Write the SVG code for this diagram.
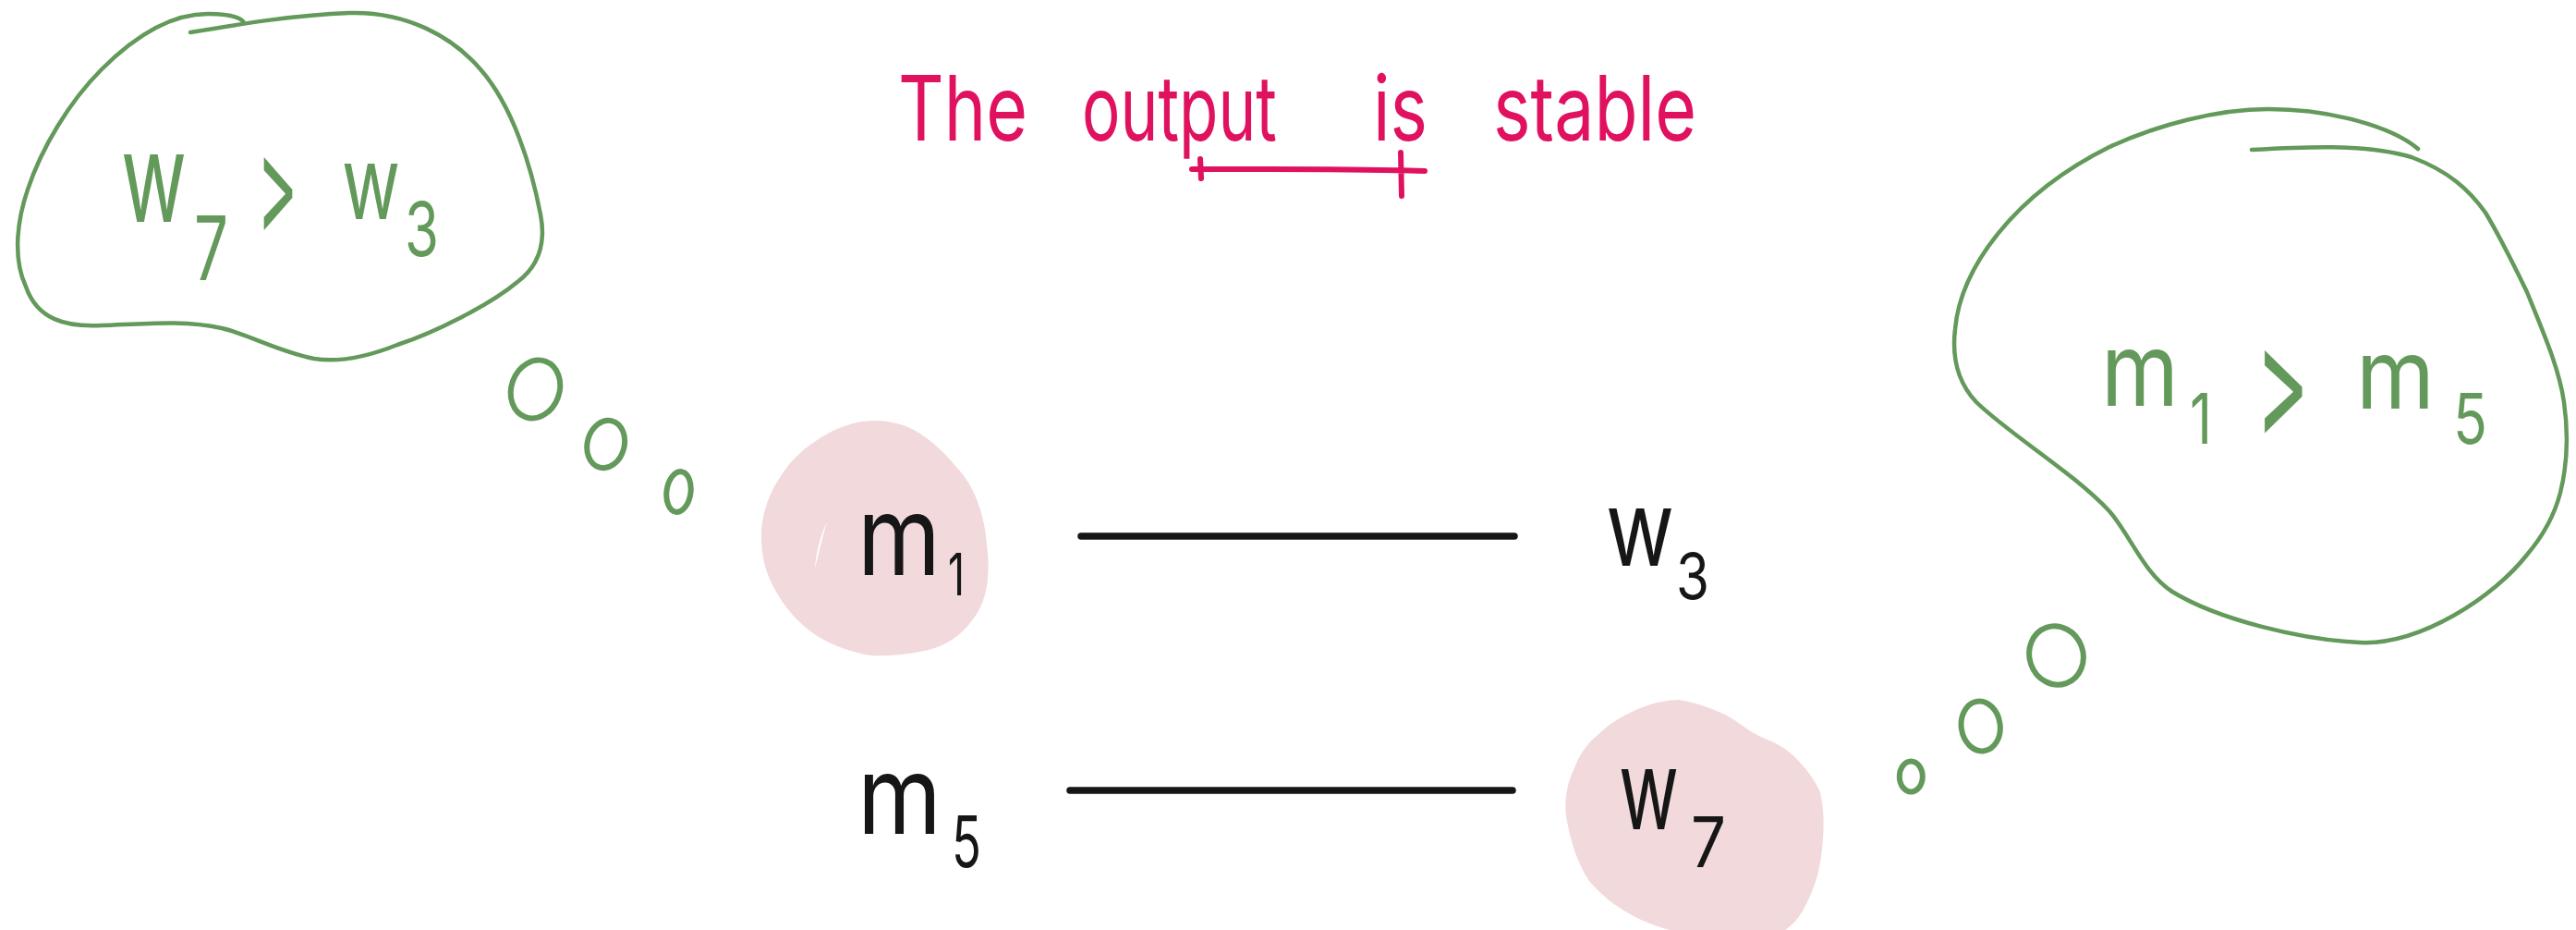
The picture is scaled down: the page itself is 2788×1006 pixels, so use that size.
<svg xmlns="http://www.w3.org/2000/svg" width="2788" height="1006" viewBox="0 0 2788 1006">
<style>
.bg{fill:#ffffff}
.bubble{fill:none;stroke:#63995a;stroke-width:4.5;stroke-linecap:round;stroke-linejoin:round}
.dot{fill:none;stroke:#63995a;stroke-width:6}
.blob{fill:#f1d9dc}
.edge{stroke:#161616;stroke-width:7.5;stroke-linecap:round}
.uline{fill:none;stroke:#e0115f;stroke-width:6;stroke-linecap:round}
text{font-family:Inter,"Liberation Sans","DejaVu Sans",sans-serif;font-weight:400}
.g{fill:#63995a}
.k{fill:#161616}
.r{fill:#e0115f}
</style>
<rect class="bg" x="0" y="0" width="2788" height="1006"/>

<g id="title">
<text class="r" font-size="98"><tspan x="972" y="152" textLength="140" lengthAdjust="spacingAndGlyphs">The</tspan><tspan x="1171" y="152" textLength="211" lengthAdjust="spacingAndGlyphs">output</tspan><tspan x="1486" y="152" textLength="59" lengthAdjust="spacingAndGlyphs">is</tspan><tspan x="1616" y="152" textLength="220" lengthAdjust="spacingAndGlyphs">stable</tspan></text>
<path class="uline" d="M1290,183 C1370,183 1460,182 1542,185 M1299,172 L1300,193 M1516,165 L1517,212"/>
</g>

<g id="thought-left">
<path class="bubble" d="M206,35 C260,26 320,16 378,14 C440,12 490,40 520,75 C555,115 575,180 585,232 C592,268 580,290 560,305 C530,330 470,360 430,373 C395,387 365,392 340,388 C300,380 270,362 240,355 C200,346 160,350 110,352 C70,354 40,345 28,310 C14,280 18,240 30,205 C45,160 75,110 110,75 C145,40 185,15 225,15 C245,15 258,18 263,23"/>
<text class="g"><tspan x="131" y="240" font-size="134" textLength="71" lengthAdjust="spacingAndGlyphs">w</tspan><tspan x="210" y="303" font-size="96" textLength="37" lengthAdjust="spacingAndGlyphs">7</tspan><tspan x="278" y="252" font-size="150" textLength="44" lengthAdjust="spacingAndGlyphs">&gt;</tspan><tspan x="370" y="237" font-size="110" textLength="63" lengthAdjust="spacingAndGlyphs">w</tspan><tspan x="438" y="277" font-size="81" textLength="37" lengthAdjust="spacingAndGlyphs">3</tspan></text>
</g>

<g id="thought-right">
<path class="bubble" d="M2437,162 C2490,159 2560,155 2610,170 C2650,185 2672,205 2690,230 C2705,255 2720,285 2735,316 C2755,365 2770,400 2775,435 C2780,470 2778,505 2771,533 C2764,560 2752,580 2735,600 C2700,645 2620,698 2554,695 C2490,692 2400,670 2351,640 C2320,620 2305,578 2283,553 C2245,512 2175,470 2139,435 C2120,415 2112,390 2116,356 C2122,290 2180,210 2283,159 C2335,135 2400,118 2455,118 C2525,118 2590,138 2617,161"/>
<text class="g"><tspan x="2274" y="439" font-size="110" textLength="84" lengthAdjust="spacingAndGlyphs">m</tspan><tspan x="2370" y="480" font-size="76" textLength="24" lengthAdjust="spacingAndGlyphs">1</tspan><tspan x="2441" y="472" font-size="170" textLength="58" lengthAdjust="spacingAndGlyphs">&gt;</tspan><tspan x="2550" y="442" font-size="105" textLength="85" lengthAdjust="spacingAndGlyphs">m</tspan><tspan x="2655" y="480" font-size="76" textLength="37" lengthAdjust="spacingAndGlyphs">5</tspan></text>
</g>

<g id="node-m1">
<path class="blob" d="M946,455 C968,455 988,462 1000,472 C1012,480 1024,492 1033,503 C1045,515 1052,528 1057,540 C1064,558 1067,575 1068,590 C1070,605 1070,615 1069,627 C1067,645 1062,658 1053,670 C1040,688 1022,700 1000,704 C982,708 962,710 943,709 C922,706 900,698 883,687 C864,674 850,658 840,640 C828,620 824,600 824,580 C824,560 830,540 840,523 C852,502 866,488 883,477 C902,464 924,455 946,455 Z"/>
<path fill="#ffffff" d="M895,564 C888,580 883,598 882,615 C886,598 890,582 895,564 Z"/>
<text class="k"><tspan x="928" y="622" font-size="119" textLength="90" lengthAdjust="spacingAndGlyphs">m</tspan><tspan x="1026" y="644" font-size="63" textLength="18" lengthAdjust="spacingAndGlyphs">1</tspan></text>
</g>

<g id="node-w3">
<text class="k"><tspan x="1738" y="612" font-size="114" textLength="74" lengthAdjust="spacingAndGlyphs">w</tspan><tspan x="1814" y="648" font-size="69" textLength="36" lengthAdjust="spacingAndGlyphs">3</tspan></text>
</g>

<g id="node-m5">
<text class="k"><tspan x="928" y="902" font-size="117" textLength="91" lengthAdjust="spacingAndGlyphs">m</tspan><tspan x="1030" y="938" font-size="77" textLength="32" lengthAdjust="spacingAndGlyphs">5</tspan></text>
</g>

<g id="node-w7">
<path class="blob" d="M1817,757 C1835,760 1852,766 1867,773 C1878,779 1886,785 1893,790 C1903,796 1912,800 1920,803 C1933,810 1942,817 1950,827 C1960,838 1966,848 1970,857 C1974,875 1974,890 1973,907 C1972,922 1970,934 1967,947 C1963,960 1958,974 1950,987 C1942,1000 1930,1010 1915,1014 C1880,1020 1840,1016 1800,1004 C1780,998 1765,990 1750,980 C1738,972 1728,962 1720,953 C1708,935 1700,912 1695,883 C1693,865 1696,848 1703,833 C1709,818 1716,806 1727,797 C1737,787 1748,779 1760,773 C1778,764 1797,757 1817,757 Z"/>
<text class="k"><tspan x="1752" y="897" font-size="119" textLength="65" lengthAdjust="spacingAndGlyphs">w</tspan><tspan x="1830" y="938" font-size="76" textLength="38" lengthAdjust="spacingAndGlyphs">7</tspan></text>
</g>

<g id="connectors">
<line class="edge" x1="1170" y1="580" x2="1639" y2="580"/>
<line class="edge" x1="1158" y1="855" x2="1637" y2="855"/>
<ellipse class="dot" cx="579.5" cy="421" rx="26" ry="32" transform="rotate(20 579.5 421)"/>
<ellipse class="dot" cx="655.7" cy="480.5" rx="20" ry="26" transform="rotate(15 655.7 480.5)"/>
<ellipse class="dot" cx="734.5" cy="532" rx="13" ry="22" transform="rotate(8 734.5 532)"/>
<ellipse class="dot" cx="2225.5" cy="709" rx="29" ry="32" transform="rotate(-20 2225.5 709)"/>
<ellipse class="dot" cx="2143.7" cy="785.5" rx="21" ry="27" transform="rotate(-8 2143.7 785.5)"/>
<ellipse class="dot" cx="2068.3" cy="840" rx="12.5" ry="16.5"/>
</g>
</svg>
